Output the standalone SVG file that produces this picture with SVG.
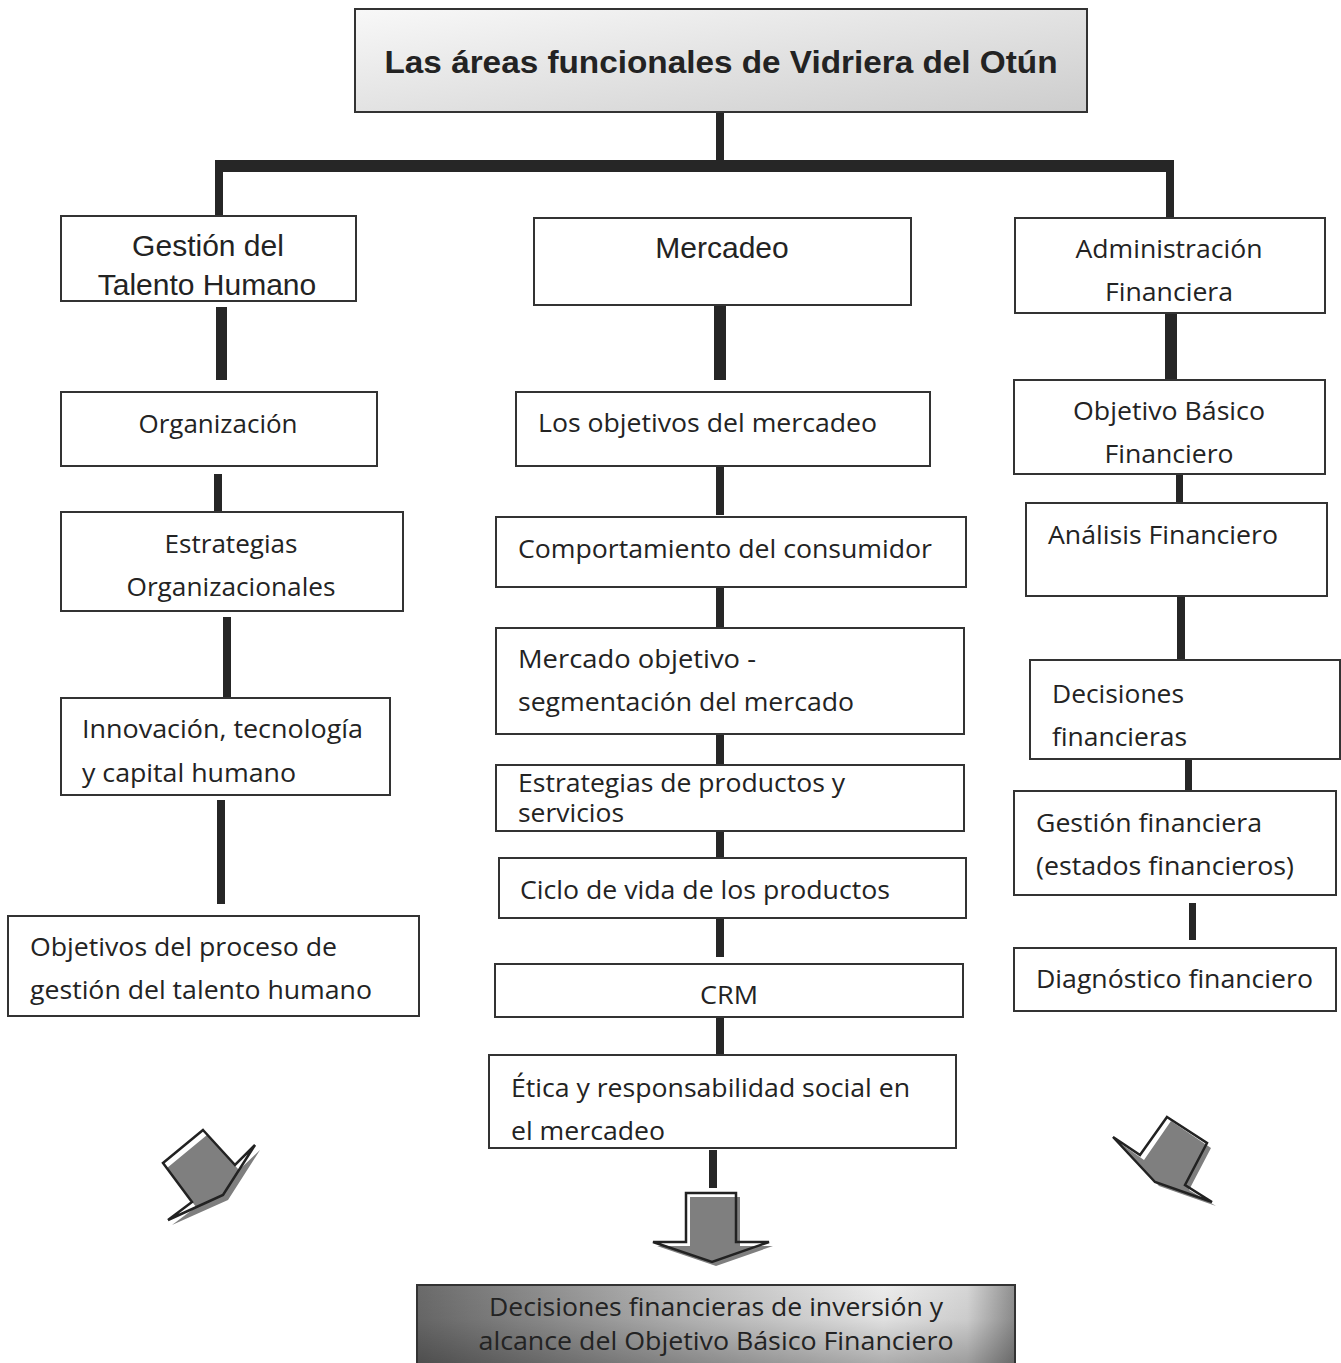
<svg xmlns="http://www.w3.org/2000/svg" width="1341" height="1363" viewBox="0 0 1341 1363">
<defs>
<linearGradient id="gTitle" x1="0" y1="0" x2="1" y2="1">
<stop offset="0" stop-color="#f8f8f8"/>
<stop offset="1" stop-color="#cdcdcd"/>
</linearGradient>
<linearGradient id="gBottom" x1="0" y1="0" x2="1" y2="0">
<stop offset="0" stop-color="#6a6a6a"/>
<stop offset="0.45" stop-color="#b8b8b8"/>
<stop offset="0.78" stop-color="#ececec"/>
<stop offset="0.92" stop-color="#d6d6d6"/>
<stop offset="1" stop-color="#8f8f8f"/>
</linearGradient>
<linearGradient id="gBottomV" x1="0" y1="0" x2="0" y2="1">
<stop offset="0" stop-color="#000" stop-opacity="0"/>
<stop offset="0.4" stop-color="#000" stop-opacity="0.05"/>
<stop offset="1" stop-color="#000" stop-opacity="0.3"/>
</linearGradient>
<style>
.box{fill:#fff;stroke:#333;stroke-width:2}
.t{font-family:"Open Sans","Noto Sans","DejaVu Sans",sans-serif;font-size:26px;fill:#232323}
.a{font-family:"Liberation Sans",Arial,sans-serif;font-size:30px;fill:#232323}
.ttl{font-family:"Liberation Sans",Arial,sans-serif;font-size:32px;font-weight:bold;fill:#232323}
.c{fill:#262626}
.shadow{fill:#7f7f7f}
.outline{fill:none;stroke:#222;stroke-width:2.5;stroke-linejoin:miter}
</style>
</defs>
<rect width="1341" height="1363" fill="#fff"/>

<g id="connectors">
<rect class="c" x="716" y="112" width="8" height="50"/>
<rect class="c" x="215" y="160" width="959" height="12"/>
<rect class="c" x="215" y="160" width="8" height="57"/>
<rect class="c" x="1166" y="160" width="8" height="59"/>
<rect class="c" x="216" y="307" width="11" height="73"/>
<rect class="c" x="214" y="474" width="8" height="38"/>
<rect class="c" x="223" y="617" width="8" height="80"/>
<rect class="c" x="217" y="800" width="8" height="104"/>
<rect class="c" x="714" y="305" width="12" height="75"/>
<rect class="c" x="716" y="466" width="8" height="49"/>
<rect class="c" x="716" y="588" width="8" height="40"/>
<rect class="c" x="716" y="734" width="8" height="31"/>
<rect class="c" x="716" y="831" width="8" height="27"/>
<rect class="c" x="716" y="918" width="8" height="39"/>
<rect class="c" x="716" y="1017" width="8" height="38"/>
<rect class="c" x="709" y="1150" width="8" height="38"/>
<rect class="c" x="1165" y="313" width="12" height="67"/>
<rect class="c" x="1176" y="474" width="7" height="29"/>
<rect class="c" x="1177" y="596" width="8" height="64"/>
<rect class="c" x="1185" y="759" width="7" height="32"/>
<rect class="c" x="1189" y="903" width="7" height="37"/>
</g>

<g id="title">
<rect x="355" y="9" width="732" height="103" fill="url(#gTitle)" stroke="#333" stroke-width="2"/>
<text class="ttl" x="721" y="73" text-anchor="middle" textLength="673" lengthAdjust="spacingAndGlyphs">Las áreas funcionales de Vidriera del Otún</text>
</g>

<g id="n-talento">
<rect class="box" x="61" y="216" width="295" height="85"/>
<text class="a" x="208" y="256" text-anchor="middle">Gestión del</text>
<text class="a" x="207" y="295" text-anchor="middle">Talento Humano</text>
</g>
<g id="n-organizacion">
<rect class="box" x="61" y="392" width="316" height="74"/>
<text class="t" x="218" y="433" text-anchor="middle" textLength="159" lengthAdjust="spacingAndGlyphs">Organización</text>
</g>
<g id="n-estrategias-org">
<rect class="box" x="61" y="512" width="342" height="99"/>
<text class="t" x="231" y="553" text-anchor="middle" textLength="133" lengthAdjust="spacingAndGlyphs">Estrategias</text>
<text class="t" x="231" y="596" text-anchor="middle" textLength="209" lengthAdjust="spacingAndGlyphs">Organizacionales</text>
</g>
<g id="n-innovacion">
<rect class="box" x="61" y="698" width="329" height="97"/>
<text class="t" x="82" y="738" textLength="281" lengthAdjust="spacingAndGlyphs">Innovación, tecnología</text>
<text class="t" x="82" y="782" textLength="214" lengthAdjust="spacingAndGlyphs">y capital humano</text>
</g>
<g id="n-objetivos-th">
<rect class="box" x="8" y="916" width="411" height="100"/>
<text class="t" x="30" y="956" textLength="307" lengthAdjust="spacingAndGlyphs">Objetivos del proceso de</text>
<text class="t" x="30" y="999" textLength="342" lengthAdjust="spacingAndGlyphs">gestión del talento humano</text>
</g>

<g id="n-mercadeo">
<rect class="box" x="534" y="218" width="377" height="87"/>
<text class="a" x="722" y="258" text-anchor="middle">Mercadeo</text>
</g>
<g id="n-objetivos-merc">
<rect class="box" x="516" y="392" width="414" height="74"/>
<text class="t" x="538" y="432" textLength="339" lengthAdjust="spacingAndGlyphs">Los objetivos del mercadeo</text>
</g>
<g id="n-comportamiento">
<rect class="box" x="496" y="517" width="470" height="70"/>
<text class="t" x="518" y="558" textLength="414" lengthAdjust="spacingAndGlyphs">Comportamiento del consumidor</text>
</g>
<g id="n-mercado-objetivo">
<rect class="box" x="496" y="628" width="468" height="106"/>
<text class="t" x="518" y="668" textLength="238" lengthAdjust="spacingAndGlyphs">Mercado objetivo -</text>
<text class="t" x="518" y="711" textLength="336" lengthAdjust="spacingAndGlyphs">segmentación del mercado</text>
</g>
<g id="n-estrategias-prod">
<rect class="box" x="496" y="765" width="468" height="66"/>
<text class="t" x="518" y="792" textLength="327" lengthAdjust="spacingAndGlyphs">Estrategias de productos y</text>
<text class="t" x="518" y="822" textLength="106" lengthAdjust="spacingAndGlyphs">servicios</text>
</g>
<g id="n-ciclo">
<rect class="box" x="499" y="858" width="467" height="60"/>
<text class="t" x="520" y="899" textLength="370" lengthAdjust="spacingAndGlyphs">Ciclo de vida de los productos</text>
</g>
<g id="n-crm">
<rect class="box" x="495" y="964" width="468" height="53"/>
<text class="t" x="729" y="1004" text-anchor="middle" textLength="58" lengthAdjust="spacingAndGlyphs">CRM</text>
</g>
<g id="n-etica">
<rect class="box" x="489" y="1055" width="467" height="93"/>
<text class="t" x="511" y="1097" textLength="399" lengthAdjust="spacingAndGlyphs">Ética y responsabilidad social en</text>
<text class="t" x="511" y="1140" textLength="154" lengthAdjust="spacingAndGlyphs">el mercadeo</text>
</g>

<g id="n-admin">
<rect class="box" x="1015" y="218" width="310" height="95"/>
<text class="t" x="1169" y="258" text-anchor="middle" textLength="187" lengthAdjust="spacingAndGlyphs">Administración</text>
<text class="t" x="1169" y="301" text-anchor="middle" textLength="128" lengthAdjust="spacingAndGlyphs">Financiera</text>
</g>
<g id="n-obf">
<rect class="box" x="1014" y="380" width="311" height="94"/>
<text class="t" x="1169" y="420" text-anchor="middle" textLength="192" lengthAdjust="spacingAndGlyphs">Objetivo Básico</text>
<text class="t" x="1169" y="463" text-anchor="middle" textLength="129" lengthAdjust="spacingAndGlyphs">Financiero</text>
</g>
<g id="n-analisis">
<rect class="box" x="1026" y="503" width="301" height="93"/>
<text class="t" x="1048" y="544" textLength="230" lengthAdjust="spacingAndGlyphs">Análisis Financiero</text>
</g>
<g id="n-decisiones">
<rect class="box" x="1030" y="660" width="310" height="99"/>
<text class="t" x="1052" y="703" textLength="132" lengthAdjust="spacingAndGlyphs">Decisiones</text>
<text class="t" x="1052" y="746" textLength="135" lengthAdjust="spacingAndGlyphs">financieras</text>
</g>
<g id="n-gestion-fin">
<rect class="box" x="1014" y="791" width="322" height="104"/>
<text class="t" x="1036" y="832" textLength="226" lengthAdjust="spacingAndGlyphs">Gestión financiera</text>
<text class="t" x="1036" y="875" textLength="258" lengthAdjust="spacingAndGlyphs">(estados financieros)</text>
</g>
<g id="n-diagnostico">
<rect class="box" x="1014" y="948" width="322" height="63"/>
<text class="t" x="1036" y="988" textLength="277" lengthAdjust="spacingAndGlyphs">Diagnóstico financiero</text>
</g>

<g id="arrow-left">
<polygon class="shadow" points="207,1135 239,1170 260,1150 228,1200 172,1225 196,1207 167,1168"/>
<polygon class="outline" points="203,1130 235,1165 255,1145 223,1195 168,1220 192,1202 163,1163"/>
</g>
<g id="arrow-right">
<polygon class="shadow" points="1171,1121 1211,1148 1189,1190 1216,1206 1159,1186 1117,1141 1144,1160"/>
<polygon class="outline" points="1167,1117 1207,1143 1185,1185 1212,1202 1155,1182 1113,1137 1140,1155"/>
</g>
<g id="arrow-down">
<polygon class="shadow" points="690,1197 740,1197 740,1246 773,1246 716,1266 657,1246 690,1246"/>
<polygon class="outline" points="686,1193 736,1193 736,1242 769,1242 712,1262 653,1242 686,1242"/>
</g>

<g id="n-resultado">
<rect x="417" y="1285" width="598" height="85" fill="url(#gBottom)"/>
<rect x="417" y="1285" width="598" height="85" fill="url(#gBottomV)" stroke="#333" stroke-width="2"/>
<text class="t" x="716" y="1316" text-anchor="middle" textLength="454" lengthAdjust="spacingAndGlyphs">Decisiones financieras de inversión y</text>
<text class="t" x="716" y="1350" text-anchor="middle" textLength="475" lengthAdjust="spacingAndGlyphs">alcance del Objetivo Básico Financiero</text>
</g>
</svg>
